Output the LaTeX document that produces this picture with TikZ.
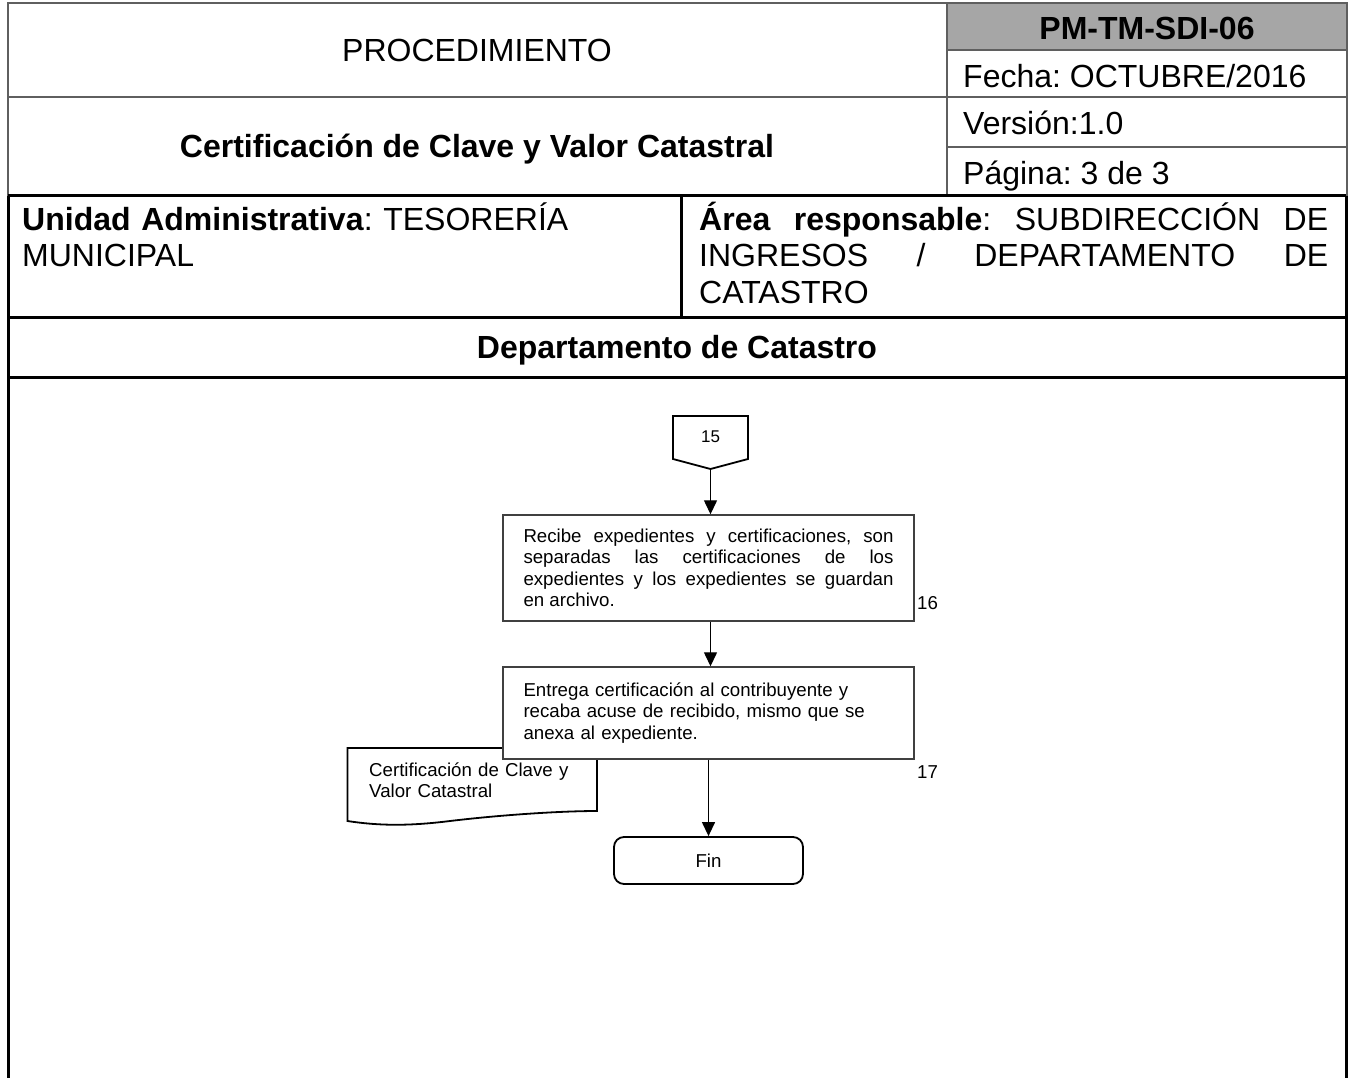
\documentclass[tikz,border=0pt]{standalone}
\usepackage{fontspec}
\setmainfont{Liberation Sans}
\usetikzlibrary{arrows.meta}
\definecolor{hdrline}{HTML}{5F5F5F}
\definecolor{hdrfill}{HTML}{A6A6A6}
\definecolor{boxline}{HTML}{404040}
\frenchspacing
\tikzset{
  hdr/.style={font=\fontsize{32}{36.8}\selectfont, inner sep=0pt},
  hdrb/.style={font=\fontsize{32}{36.8}\selectfont\bfseries, inner sep=0pt},
  greyrule/.style={draw=hdrline, line width=2pt},
  blackrule/.style={draw=black, line width=3pt},
  procbox/.style={draw=boxline, line width=1.4pt, fill=white, minimum width=411pt,
    inner xsep=20.5pt, inner ysep=0pt, text width=370pt,
    font=\fontsize{18.67}{21.47}\selectfont},
  finbox/.style={draw=black, line width=1.8pt, fill=white, rounded corners=10pt,
    minimum width=189pt, minimum height=47pt, inner sep=0pt,
    font=\fontsize{18.67}{21.47}\selectfont},
  lbl/.style={font=\fontsize{18.67}{21.47}\selectfont, inner sep=0pt},
  lblsmall/.style={font=\fontsize{17}{19.5}\selectfont, inner sep=0pt},
  shapeline/.style={draw=black, line width=1.8pt, fill=white},
  flowarrow/.style={-{Triangle[length=14pt,width=13pt]}, line width=1.3pt, draw=black}
}
\begin{document}
\begin{tikzpicture}[x=1pt,y=-1pt]
\useasboundingbox (0,0) rectangle (1351,1078);

% ---------- header (grey part)
\fill[hdrfill] (947,3.5) rectangle (1346.5,50);
\draw[greyrule] (8,3.5) rectangle (1346.5,196);
\draw[greyrule] (947,3.5) -- (947,196);
\draw[greyrule] (8,97) -- (1346.5,97);
\draw[greyrule] (947,50) -- (1346.5,50);
\draw[greyrule] (947,147) -- (1346.5,147);

% ---------- black frame
\draw[blackrule] (8,196) -- (1346,196);
\draw[blackrule] (8,317) -- (1346,317);
\draw[blackrule] (8,377) -- (1346,377);
\draw[blackrule] (681,196) -- (681,317);
\draw[blackrule] (8,196) -- (8,1078);
\draw[blackrule] (1346,196) -- (1346,1078);

% ---------- header texts
\node[hdr, anchor=base] (proc) at (477,61.5) {PROCEDIMIENTO};
\node[hdrb, anchor=base] (title) at (477,158) {Certificación de Clave y Valor Catastral};
\node[hdrb, anchor=base] (code) at (1147,39.5) {PM-TM-SDI-06};
\node[hdr, anchor=base west] (fecha) at (963,87.5) {Fecha: OCTUBRE/2016};
\node[hdr, anchor=base west] (version) at (963,134.5) {Versión:1.0};
\node[hdr, anchor=base west] (pagina) at (963,184.5) {Página: 3 de 3};

\node[hdr, anchor=base west, text width=645pt, align=left] (unidad) at (22,230)
  {\textbf{Unidad Administrativa}: TESORERÍA\\MUNICIPAL};
\node[hdr, anchor=base west, text width=629pt, align=justify] (area) at (699,230)
  {\textbf{Área responsable}: SUBDIRECCIÓN DE\linebreak INGRESOS / DEPARTAMENTO DE\linebreak CATASTRO};
\node[hdrb, anchor=base] (dept) at (677,358.5) {Departamento de Catastro};

% ---------- flowchart
\draw[shapeline] (673,416) -- (748,416) -- (748,459) -- (710.5,469) -- (673,459) -- cycle;
\node[lblsmall] (c15) at (710.5,437) {15};
\coordinate (c15tip) at (710.5,469);

\node[procbox, minimum height=106pt, align=justify] (s16) at (708.5,568)
  {Recibe expedientes y certificaciones, son\linebreak separadas las certificaciones de los\linebreak expedientes y los expedientes se guardan\linebreak en archivo.};
\node[lbl, anchor=west] (n16) at (917,603) {16};

\draw[shapeline] (347.5,748) -- (597,748) -- (597,811)
  .. controls (560,811) and (500,815) .. (450,821)
  .. controls (410,826) and (380,826) .. (347.5,821) -- cycle;
\node[lbl, anchor=base west, text width=215pt, align=left] (doctxt) at (369,776.5)
  {Certificación de Clave y\\Valor Catastral};

\node[procbox, minimum height=92pt, align=left] (s17) at (708.5,713)
  {Entrega certificación al contribuyente y\\recaba acuse de recibido, mismo que se\\anexa al expediente.};
\node[lbl, anchor=west] (n17) at (917,772) {17};

\node[finbox] (fin) at (708.5,860.5) {Fin};

\draw[flowarrow] (c15tip) -- (c15tip |- s16.north);
\draw[flowarrow] (s16.south -| c15tip) -- (c15tip |- s17.north);
\draw[flowarrow] (s17.south) -- (fin.north);
\end{tikzpicture}
\end{document}
